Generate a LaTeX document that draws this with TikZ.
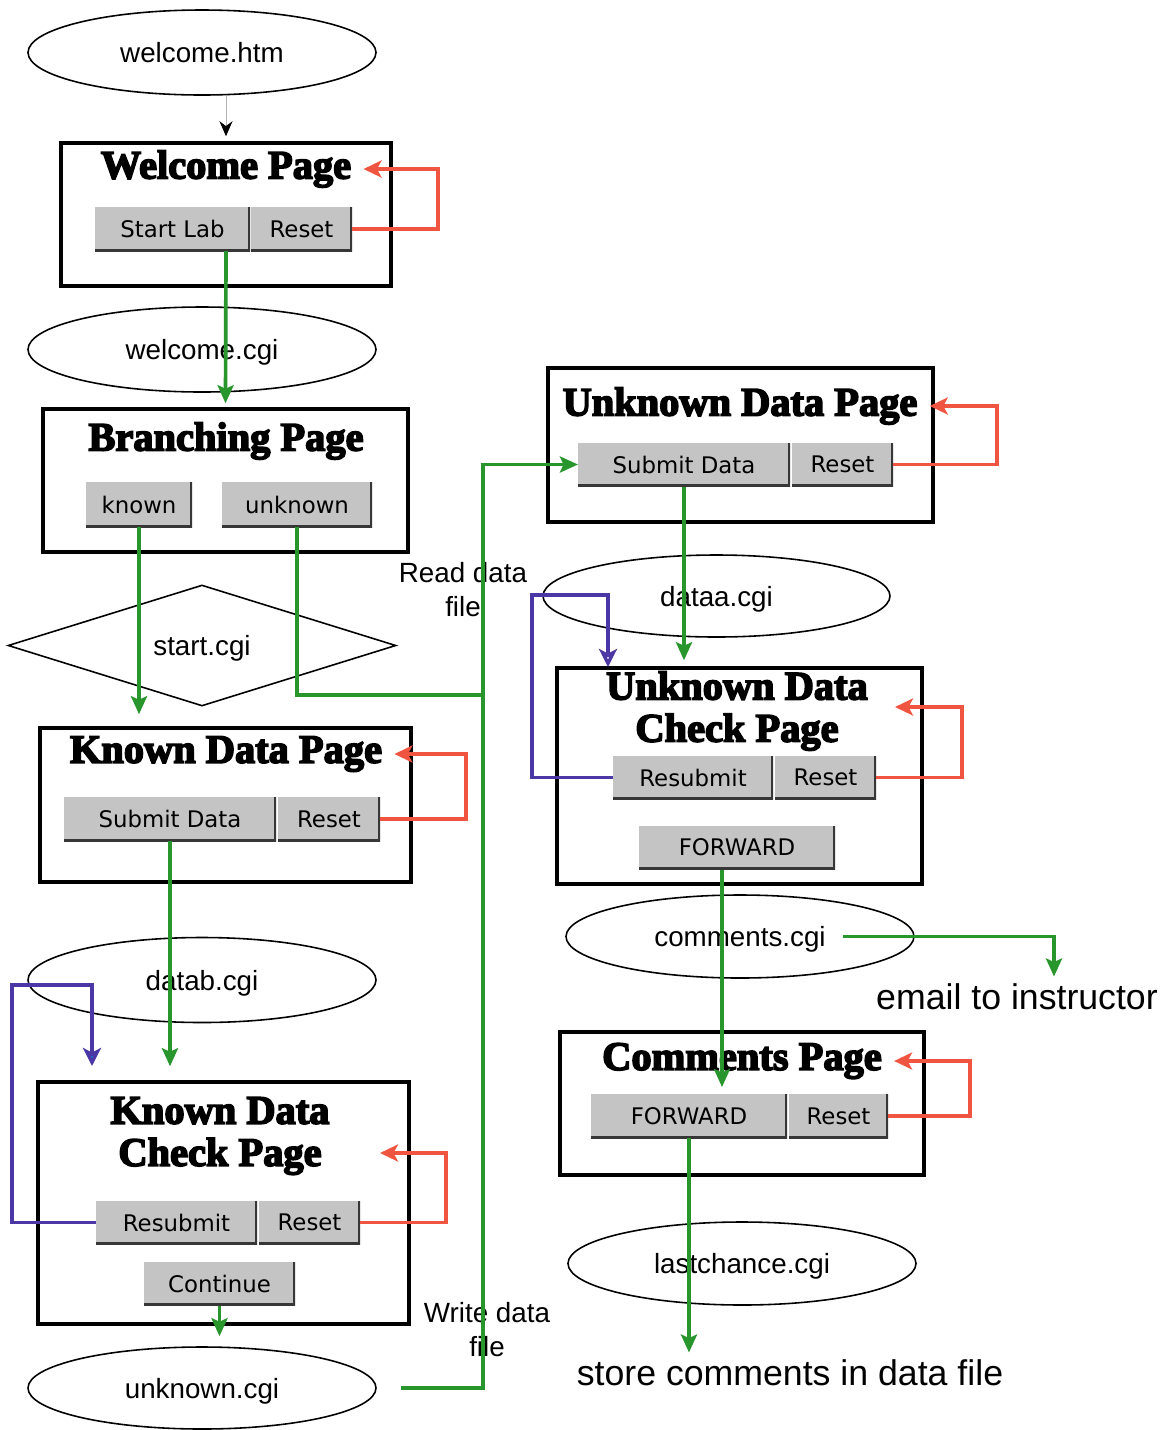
\documentclass[tikz,border=0pt]{standalone}
\usepackage{fontspec}
\setmainfont{Liberation Sans}
\newfontfamily\titlefont{Liberation Serif}[FakeBold=4]
\newfontfamily\btnfont{DejaVu Sans}
\usepackage{tikz}
\usetikzlibrary{positioning, shapes.geometric, arrows.meta}
\definecolor{flowgreen}{RGB}{40,150,45}
\definecolor{resetred}{RGB}{240,85,65}
\definecolor{retrypurple}{RGB}{75,55,165}
\definecolor{btngray}{RGB}{196,196,196}
\definecolor{btnedge}{RGB}{55,55,55}

\begin{document}
\begin{tikzpicture}[
  x=0.2mm, y=-0.2mm,
  page/.style={draw, line width=2pt, inner sep=0pt},
  pagetitle/.style={font=\titlefont\bfseries\fontsize{23}{24}\selectfont, align=center, inner xsep=2.4mm, inner ysep=0pt},
  script/.style={draw, ellipse, line width=0.9pt, minimum width=69.6mm, minimum height=17mm, inner sep=0pt, text depth=0pt, font=\fontsize{15.8}{19}\selectfont},
  btn/.style={fill=btngray, minimum height=8.8mm, inner sep=0pt, outer sep=0pt, font=\btnfont\fontsize{13}{15}\selectfont,
    path picture={\draw[btnedge, line width=2.6pt] (path picture bounding box.north east) -- (path picture bounding box.south east) -- (path picture bounding box.south west);}},
  flow/.style={draw=flowgreen, line width=2.1pt, -{Stealth[length=3.6mm, width=3.2mm, inset=0.7mm]}},
  resetloop/.style={draw=resetred, line width=2.1pt, -{Stealth[length=3.6mm, width=3.4mm, inset=0.9mm]}},
  retry/.style={draw=retrypurple, line width=2.1pt},
  note/.style={font=\fontsize{15.8}{19.3}\selectfont, align=center},
  bignote/.style={font=\fontsize{20.3}{24}\selectfont, inner xsep=0pt, inner ysep=1.4mm},
]
  \useasboundingbox (0,0) rectangle (1162,1430);

  % Left column: welcome and known data
  \node[script] (whtm) at (202,52.5) {welcome.htm};
  \node[page, minimum width=66mm, minimum height=28.6mm] (wpage) at (226,214.5) {};
  \node[pagetitle] (wtitle) at (226,169) {Welcome Page};
  \node[btn, minimum width=31mm] (wstart) at (172.5,229) {Start Lab};
  \node[btn, minimum width=20.2mm, right=0.2mm of wstart] (wreset) {Reset};

  \node[script] (wcgi) at (202,349.5) {welcome.cgi};

  \node[page, minimum width=73mm, minimum height=28.6mm] (bpage) at (225.5,480.5) {};
  \node[pagetitle] (btitle) at (226,441) {Branching Page};
  \node[btn, minimum width=21.2mm, minimum height=9mm] (known) at (139,504.5) {known};
  \node[btn, minimum width=30mm, minimum height=9mm] (unknown) at (297,504.5) {unknown};

  \node[draw, diamond, line width=0.9pt, minimum width=77.6mm, minimum height=24.2mm, inner sep=0pt, text depth=0pt, font=\fontsize{15.8}{19}\selectfont] (start) at (202,645.5) {start.cgi};

  \node[page, minimum width=74.2mm, minimum height=30.8mm] (kpage) at (225.5,805) {};
  \node[pagetitle] (ktitle) at (226,754) {Known Data Page};
  \node[btn, minimum width=42.4mm] (ksubmit) at (170,819) {Submit Data};
  \node[btn, minimum width=20.4mm, right=0.4mm of ksubmit] (kreset) {Reset};

  \node[script] (bcgi) at (202,980) {datab.cgi};

  \node[page, minimum width=74.2mm, minimum height=48.4mm] (kcpage) at (223.5,1203) {};
  \node[pagetitle] (kctitle) at (220,1136) {Known Data\\Check Page};
  \node[btn, minimum width=32.2mm] (kresub) at (176.5,1222.5) {Resubmit};
  \node[btn, minimum width=20.2mm, right=0.4mm of kresub] (kcreset) {Reset};
  \node[btn, minimum width=30.2mm] (kcont) at (219.5,1283.5) {Continue};

  \node[script, minimum height=16.4mm] (ucgi) at (202,1388) {unknown.cgi};

  % Right column: unknown data and comments
  \node[page, minimum width=77mm, minimum height=30.8mm] (upage) at (740.5,445) {};
  \node[pagetitle] (utitle) at (740,406) {Unknown Data Page};
  \node[btn, minimum width=42.4mm] (usubmit) at (684,464.5) {Submit Data};
  \node[btn, minimum width=20.2mm, right=0.4mm of usubmit] (ureset) {Reset};

  \node[script, minimum width=69.4mm, minimum height=16.4mm] (acgi) at (716.5,596) {dataa.cgi};

  \node[page, minimum width=73mm, minimum height=43.2mm] (ucpage) at (739.5,776) {};
  \node[pagetitle] (uctitle) at (737,711) {Unknown Data\\Check Page};
  \node[btn, minimum width=32mm] (uresub) at (693,777.5) {Resubmit};
  \node[btn, minimum width=20.2mm, right=0.4mm of uresub] (ucreset) {Reset};
  \node[btn, minimum width=39.2mm] (uforward) at (737,847.5) {FORWARD};

  \node[script, minimum height=16.6mm] (ccgi) at (740,936.5) {comments.cgi};
  \node[bignote] (email) at (1017,997) {email to instructor};

  \node[page, minimum width=72.8mm, minimum height=28.6mm] (cpage) at (742,1103.5) {};
  \node[pagetitle] (ctitle) at (742,1061) {Comments Page};
  \node[btn, minimum width=39.2mm] (cforward) at (689,1116) {FORWARD};
  \node[btn, minimum width=19.8mm, right=0.4mm of cforward] (creset) {Reset};

  \node[script, minimum height=16.6mm] (lcgi) at (742,1263.5) {lastchance.cgi};
  \node[bignote] (store) at (790,1373) {store comments in data file};

  \node[note] (readnote) at (463,590) {Read data\\file};
  \node[note] (writenote) at (487,1330) {Write data\\file};

  \coordinate (trunk) at (483,695);
  \coordinate (kcLoop) at (12,985);
  \coordinate (kcTop) at (92,1066);
  \coordinate (kcIn) at (380,1153);
  \coordinate (ucLoop) at (532,595);
  \coordinate (ucTop) at (608,667);
  \coordinate (ucIn) at (895,707);
  \coordinate (cIn) at (722,1087);

  % connectors
  \draw[draw=gray!60, line width=0.5pt, -{Stealth[length=3mm, width=2.6mm, color=black]}, shorten >=1mm] (whtm.south -| wpage.north) -- (wpage.north);
  \draw[resetloop] (wreset.east) -- ++(86,0) |- (wtitle.east);
  \draw[flow, shorten >=0.8mm] (wstart.south -| wpage.north) -- (bpage.north);

  \draw[flow, shorten >=2.4mm] (known.south) -- (known.south |- kpage.north);
  \draw[flow, -] (unknown.south) |- (trunk);
  \draw[flow] ([xshift=4.8mm]ucgi.east) -| (trunk) |- (usubmit.west);

  \draw[resetloop] (kreset.east) -- ++(86,0) |- (ktitle.east);
  \draw[flow, shorten >=2.8mm] (ksubmit.south) -- (ksubmit.south |- kcpage.north);
  \draw[retry, -{Stealth[length=3.6mm, width=3.6mm, inset=0.9mm, fill=cyan!60!blue]}] (kresub.west) -| (kcLoop) -| (kcTop);
  \draw[resetloop] (kcreset.east) -- ++(86,0) |- (kcIn);
  \draw[flow, shorten >=2mm] (kcont.south) -- (kcont.south |- ucgi.north);

  \draw[resetloop] (ureset.east) -- ++(104,0) |- (utitle.east);
  \draw[flow, shorten >=1.2mm] (usubmit.south) -- (usubmit.south |- ucpage.north);
  \draw[retry, -{Stealth[length=3.6mm, width=3.6mm, inset=0.9mm, fill=white]}] (uresub.west) -| (ucLoop) -| (ucTop);
  \draw[resetloop] (ucreset.east) -- ++(86,0) |- (ucIn);
  \draw[flow] (uforward.south -| cIn) -- (cIn);

  \draw[flow] ([xshift=20.6mm]ccgi.center) -| ([xshift=7.4mm]email.north);
  \draw[resetloop] (creset.east) -- ++(82,0) |- (ctitle.east);
  \draw[flow] (cforward.south) -- (cforward.south |- store.north);
\end{tikzpicture}
\end{document}
